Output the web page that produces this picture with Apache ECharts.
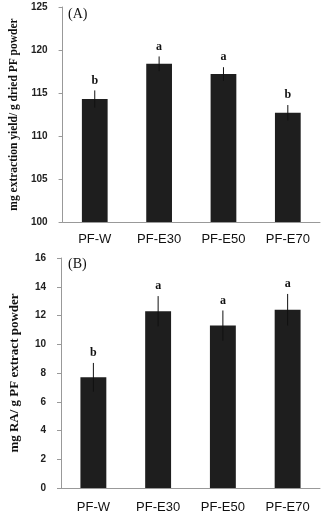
<!DOCTYPE html>
<html>
<head>
<meta charset="utf-8">
<script src="https://cdn.jsdelivr.net/npm/echarts@6/dist/echarts.min.js"></script>
<style>
  html, body { margin: 0; padding: 0; background: #fff; }
  #chart { width: 326px; height: 515px; }
</style>
</head>
<body>
<div id="chart"></div>
<script>
  const categories = ['PF-W', 'PF-E30', 'PF-E50', 'PF-E70'];

  // panel A: extraction yield
  const yieldValues = [114.3, 118.4, 117.2, 112.7];
  const yieldErrors = [1.0, 0.85, 0.8, 0.9];
  const yieldLetters = ['b', 'a', 'a', 'b'];

  // panel B: RA content
  const raValues = [7.7, 12.3, 11.3, 12.4];
  const raErrors = [1.0, 1.05, 1.05, 1.1];
  const raLetters = ['b', 'a', 'a', 'a'];

  const serif = '"Liberation Serif", "DejaVu Serif", serif';
  const sans = '"Liberation Sans", Arial, sans-serif';

  function errorSeries(idx, values, errors, letters) {
    return {
      type: 'custom',
      xAxisIndex: idx,
      yAxisIndex: idx,
      z: 10,
      data: values.map((v, i) => [i, v, errors[i], letters[i]]),
      renderItem: function (params, api) {
        const x = api.value(0);
        const top = api.coord([x, api.value(1) + api.value(2)]);
        const bot = api.coord([x, api.value(1) - api.value(2)]);
        return {
          type: 'group',
          children: [
            {
              type: 'line',
              shape: { x1: top[0], y1: top[1], x2: bot[0], y2: bot[1] },
              style: { stroke: '#111', lineWidth: 1 }
            },
            {
              type: 'text',
              style: {
                text: api.value(3),
                x: top[0],
                y: top[1] - 4,
                align: 'center',
                verticalAlign: 'bottom',
                font: 'bold 12px ' + serif,
                fill: '#111'
              }
            }
          ]
        };
      }
    };
  }

  function yAxisCommon(name, nameSize, gap) {
    return {
      type: 'value',
      name: name,
      nameLocation: 'middle',
      nameRotate: 90,
      nameGap: gap,
      nameTextStyle: { fontFamily: serif, fontWeight: 'bold', fontSize: nameSize, color: '#111' },
      axisLine: { show: true, lineStyle: { color: '#999' } },
      axisTick: { show: true, inside: false, length: 4, lineStyle: { color: '#999' } },
      axisLabel: { fontFamily: sans, fontWeight: 'bold', fontSize: 10, color: '#222', margin: 15 },
      splitLine: { show: false }
    };
  }

  let chart = echarts.init(document.getElementById('chart'));

  let option = {
    animation: false,
    backgroundColor: '#fff',
    grid: [
      { left: 60, right: 6, top: 7, height: 215 },
      { left: 60, right: 6, top: 258, height: 230 }
    ],
    graphic: [
      { type: 'text', left: 68, top: 7, style: { text: '(A)', font: '14px ' + serif, fill: '#111' } },
      { type: 'text', left: 68, top: 257, style: { text: '(B)', font: '14px ' + serif, fill: '#111' } }
    ],
    xAxis: [0, 1].map(i => ({
      type: 'category',
      gridIndex: i,
      data: categories,
      axisLine: { lineStyle: { color: '#999' } },
      axisTick: { show: false },
      axisLabel: { fontFamily: sans, fontSize: 13, color: '#111', margin: i === 0 ? 11 : 13 }
    })),
    yAxis: [
      Object.assign(yAxisCommon('mg extraction yield/ g dried PF powder', 11.5, 42), { gridIndex: 0, min: 100, max: 125, interval: 5 }),
      Object.assign(yAxisCommon('mg RA/ g PF extract powder', 13, 40), { gridIndex: 1, min: 0, max: 16, interval: 2 })
    ],
    series: [
      {
        type: 'bar',
        xAxisIndex: 0,
        yAxisIndex: 0,
        data: yieldValues,
        barWidth: '40%',
        itemStyle: { color: '#1e1e1e' }
      },
      {
        type: 'bar',
        xAxisIndex: 1,
        yAxisIndex: 1,
        data: raValues,
        barWidth: '40%',
        itemStyle: { color: '#1e1e1e' }
      },
      errorSeries(0, yieldValues, yieldErrors, yieldLetters),
      errorSeries(1, raValues, raErrors, raLetters)
    ]
  };

  chart.setOption(option);
</script>
</body>
</html>
